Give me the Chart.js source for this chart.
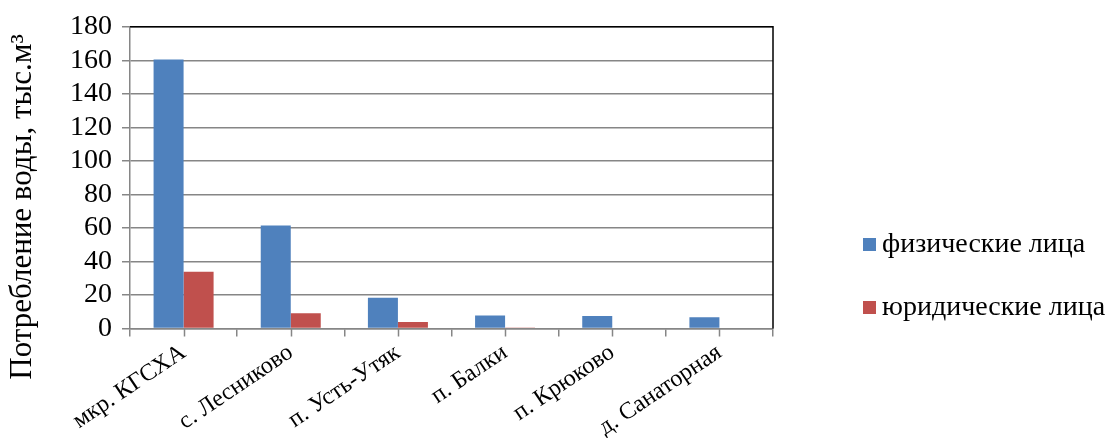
<!DOCTYPE html>
<html>
<head>
<meta charset="utf-8">
<script src="https://cdn.jsdelivr.net/npm/chart.js@4"></script>
<style>
  html, body { margin: 0; padding: 0; background: #fff; }
  #wrap { width: 1108px; height: 438px; }
</style>
</head>
<body>
<div id="wrap"><canvas id="c" width="1108" height="438"></canvas></div>
<script>
const categories = ['мкр. КГСХА', 'с. Лесниково', 'п. Усть-Утяк', 'п. Балки', 'п. Крюково', 'д. Санаторная'];
const individuals = [160.5, 61.5, 18.4, 7.7, 7.5, 6.7];
const legalEntities = [33.9, 9.1, 3.8, 0.3, 0, 0];
const seriesNames = ['физические лица', 'юридические лица'];
const seriesColors = ['#4F81BD', '#C0504D'];
const yTicks = [0, 20, 40, 60, 80, 100, 120, 140, 160, 180];
const yTitle = 'Потребление воды, тыс.м³';

const FONT = "'Liberation Serif', 'Times New Roman', serif";

// Black frame on the top and right sides of the plot area
const framePlugin = {
  id: 'frame',
  afterDraw(chart) {
    const { ctx, chartArea: a } = chart;
    ctx.save();
    ctx.strokeStyle = '#000';
    ctx.lineWidth = 1.5;
    ctx.beginPath();
    ctx.moveTo(a.left, a.top);
    ctx.lineTo(a.right, a.top);
    ctx.lineTo(a.right, a.bottom);
    ctx.stroke();
    ctx.restore();
  }
};

// Extra tick marks at category centres on the x axis
const centreTicks = {
  id: 'centreTicks',
  afterDraw(chart) {
    const { ctx } = chart;
    const xs = chart.scales.x;
    const y0 = chart.chartArea.bottom;
    ctx.save();
    ctx.strokeStyle = '#868686';
    ctx.lineWidth = 1.5;
    ctx.beginPath();
    for (let i = 0; i < categories.length; i++) {
      const x = Math.round(xs.getPixelForValue(i)) + 0.5;
      ctx.moveTo(x, y0);
      ctx.lineTo(x, y0 + 8);
    }
    ctx.stroke();
    ctx.restore();
  }
};

// Vertical axis title, centred on the whole canvas height
const yTitlePlugin = {
  id: 'yTitle',
  afterDraw(chart) {
    const { ctx } = chart;
    ctx.save();
    ctx.translate(23, 207);
    ctx.rotate(-Math.PI / 2);
    ctx.font = '31px ' + FONT;
    ctx.fillStyle = '#000';
    ctx.textAlign = 'center';
    ctx.textBaseline = 'middle';
    ctx.fillText(yTitle, 0, 0);
    ctx.restore();
  }
};

// Legend to the right of the plot, one entry per row
const sideLegend = {
  id: 'sideLegend',
  afterDraw(chart) {
    const { ctx } = chart;
    const x = 863, rows = [244, 307];
    ctx.save();
    ctx.font = '28px ' + FONT;
    ctx.textBaseline = 'middle';
    chart.data.datasets.forEach((ds, i) => {
      ctx.fillStyle = ds.backgroundColor;
      ctx.fillRect(x, rows[i] - 6, 13, 13);
      ctx.fillStyle = '#000';
      ctx.fillText(ds.label, x + 19, rows[i] + 1);
    });
    ctx.restore();
  }
};

new Chart(document.getElementById('c'), {
  type: 'bar',
  data: {
    labels: categories,
    datasets: [
      { label: seriesNames[0], data: individuals, backgroundColor: seriesColors[0] },
      { label: seriesNames[1], data: legalEntities, backgroundColor: seriesColors[1] }
    ]
  },
  options: {
    responsive: false,
    animation: false,
    devicePixelRatio: 1,
    layout: { padding: { top: 14, right: 335, left: 60, bottom: -6 } },
    datasets: { bar: { categoryPercentage: 0.56, barPercentage: 1.0 } },
    plugins: { legend: { display: false }, tooltip: { enabled: false } },
    scales: {
      x: {
        grid: { display: true, drawOnChartArea: false, offset: true, color: '#868686', lineWidth: 1.5, tickLength: 8 },
        border: { color: '#868686', width: 1.5 },
        ticks: { color: '#000', font: { family: FONT, size: 24 }, autoSkip: false, maxRotation: 34, minRotation: 34, padding: 2 }
      },
      y: {
        min: 0, max: 180,
        afterBuildTicks(scale) { scale.ticks = yTicks.map(v => ({ value: v })); },
        grid: { color: '#868686', lineWidth: 1.5, tickLength: 8 },
        border: { color: '#868686', width: 1.5 },
        ticks: { color: '#000', font: { family: FONT, size: 28 }, autoSkip: false, padding: 10 }
      }
    }
  },
  plugins: [framePlugin, centreTicks, yTitlePlugin, sideLegend]
});
</script>
</body>
</html>
